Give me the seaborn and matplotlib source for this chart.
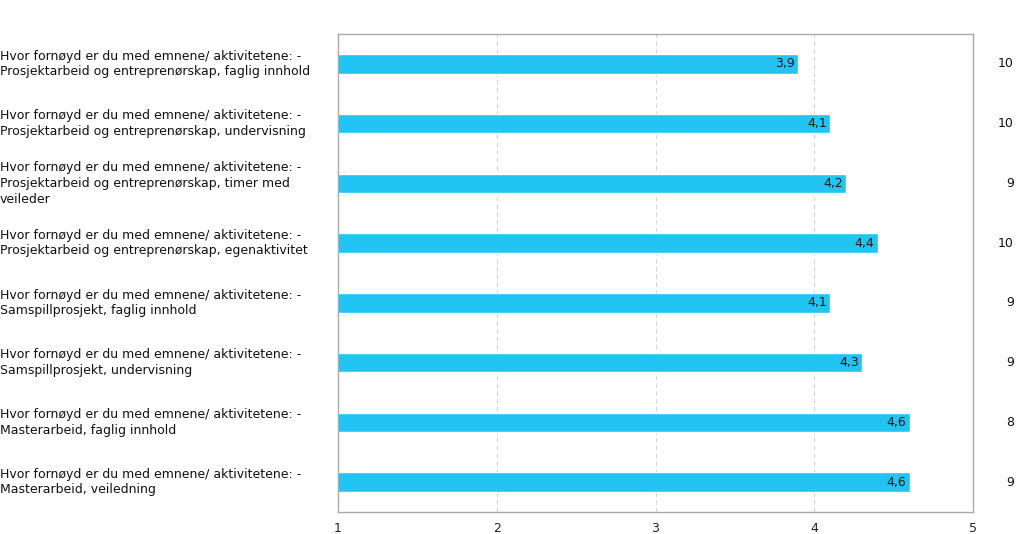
import matplotlib
matplotlib.use("Agg")
import matplotlib.pyplot as plt
import matplotlib.transforms as mtransforms
import seaborn as sns
import pandas as pd

categories = [
    "Hvor fornøyd er du med emnene/ aktivitetene: -\nProsjektarbeid og entreprenørskap, faglig innhold",
    "Hvor fornøyd er du med emnene/ aktivitetene: -\nProsjektarbeid og entreprenørskap, undervisning",
    "Hvor fornøyd er du med emnene/ aktivitetene: -\nProsjektarbeid og entreprenørskap, timer med\nveileder",
    "Hvor fornøyd er du med emnene/ aktivitetene: -\nProsjektarbeid og entreprenørskap, egenaktivitet",
    "Hvor fornøyd er du med emnene/ aktivitetene: -\nSamspillprosjekt, faglig innhold",
    "Hvor fornøyd er du med emnene/ aktivitetene: -\nSamspillprosjekt, undervisning",
    "Hvor fornøyd er du med emnene/ aktivitetene: -\nMasterarbeid, faglig innhold",
    "Hvor fornøyd er du med emnene/ aktivitetene: -\nMasterarbeid, veiledning",
]
values = [3.9, 4.1, 4.2, 4.4, 4.1, 4.3, 4.6, 4.6]
counts = [10, 10, 9, 10, 9, 9, 8, 9]
xticks = [1, 2, 3, 4, 5]

sns.set_theme(style="white")
plt.rcParams["font.family"] = ["DejaVu Sans"]

df = pd.DataFrame({"cat": categories, "val": values})

fig = plt.figure(figsize=(10.24, 5.34), dpi=100)
ax = fig.add_axes([338 / 1024, 1 - 512 / 534, (973 - 338) / 1024, (512 - 34) / 534])

sns.barplot(data=df, x="val", y="cat", orient="h", color="#21C4F2",
            saturation=1, width=0.33, ax=ax)

ax.set_xlim(1, 5)
ax.set_xticks(xticks)
ax.set_xticklabels([str(t) for t in xticks], fontsize=9, color="#222222")
ax.tick_params(axis="x", length=0, pad=7)
ax.set_yticks([])
ax.set_xlabel("")
ax.set_ylabel("")
for x in xticks[1:-1]:
    ax.axvline(x, color="#d4d4d4", linestyle=(0, (4, 3)), linewidth=0.8, zorder=0)
for s in ax.spines.values():
    s.set_color("#aaaaaa")
    s.set_linewidth(1)

trans = mtransforms.blended_transform_factory(fig.transFigure, ax.transData)
for i, (c, v, n) in enumerate(zip(categories, values, counts)):
    ax.text(0.0, i, c, transform=trans, ha="left", va="center", fontsize=9,
            color="#111111", linespacing=1.27)
    ax.text(v - 0.02, i, f"{v:.1f}".replace(".", ","), ha="right", va="center",
            fontsize=9, color="#1a1a1a")
    ax.text(1014 / 1024, i, str(n), transform=trans, ha="right", va="center",
            fontsize=9, color="#111111")

fig.savefig("out.png", dpi=100)
